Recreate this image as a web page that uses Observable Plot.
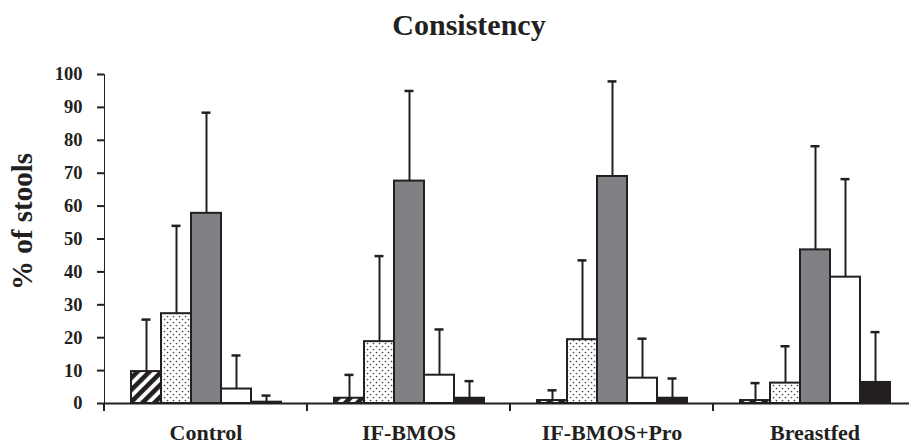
<!DOCTYPE html>
<html>
<head>
<meta charset="utf-8">
<script src="https://cdn.jsdelivr.net/npm/d3@7"></script>
<script src="https://cdn.jsdelivr.net/npm/@observablehq/plot@0.6"></script>
<style>
  html, body { margin: 0; padding: 0; background: white; }
</style>
</head>
<body>
<div id="chart"></div>
<script>
// ---- data ----
const groups = ["Control", "IF-BMOS", "IF-BMOS+Pro", "Breastfed"];
const series = ["Type 1", "Type 2", "Type 3", "Type 4", "Type 5"];
const yTicks = [0, 10, 20, 30, 40, 50, 60, 70, 80, 90, 100];
const controlMean = [9.7, 27.3, 57.8, 4.4, 0.4];
const controlSD   = [15.8, 26.7, 30.6, 10.2, 2.0];
const ifbmosMean  = [1.6, 18.8, 67.6, 8.6, 1.6];
const ifbmosSD    = [7.1, 26.0, 27.4, 13.9, 5.2];
const proMean     = [0.9, 19.4, 69.0, 7.7, 1.6];
const proSD       = [3.1, 24.1, 28.9, 12.0, 6.0];
const bfMean      = [0.9, 6.2, 46.7, 38.4, 6.4];
const bfSD        = [5.3, 11.2, 31.5, 29.8, 15.3];

const means = [controlMean, ifbmosMean, proMean, bfMean];
const sds = [controlSD, ifbmosSD, proSD, bfSD];
const data = groups.flatMap((g, gi) => series.map((s, si) => ({
  group: g, series: s, value: means[gi][si], sd: sds[gi][si]
})));

// ---- styles ----
const ink = "#231f20";
const fills = ["url(#hatch)", "url(#dots)", "#808184", "#ffffff", ink];
const serif = "'Liberation Serif', 'Times New Roman', serif";

const plot = Plot.plot({
  width: 909,
  height: 446,
  marginTop: 74,
  marginBottom: 43,
  marginLeft: 103,
  marginRight: -8,
  style: {fontFamily: serif, fontSize: "18.5px", fontWeight: "bold", color: ink, background: "white", overflow: "visible"},
  fx: {domain: groups, padding: 0, axis: "bottom", tickSize: 0, tickPadding: 21, label: null},
  x: {domain: series, axis: null, paddingInner: 0, paddingOuter: 0.78},
  y: {domain: [0, 100], ticks: yTicks, tickSize: 7, tickPadding: 15, line: true, label: null},
  color: {domain: series, range: fills},
  marks: [
    Plot.barY(data, {fx: "group", x: "series", y: "value", fill: "series", stroke: ink, strokeWidth: 2}),
    Plot.ruleX(data, {fx: "group", x: "series", y1: "value", y2: d => d.value + d.sd, stroke: ink, strokeWidth: 2}),
    Plot.tickY(data, {fx: "group", x: "series", y: d => d.value + d.sd, stroke: ink, strokeWidth: 2.5, insetLeft: 10.5, insetRight: 10.5}),
    Plot.ruleY([0], {stroke: ink, strokeWidth: 2})
  ]
});

document.getElementById("chart").appendChild(plot);
const svg = d3.select(plot);

// patterns
const defs = svg.insert("defs", ":first-child");
const hatch = defs.append("pattern").attr("id", "hatch").attr("patternUnits", "userSpaceOnUse")
  .attr("width", 8.5).attr("height", 8.5).attr("patternTransform", "rotate(45)");
hatch.append("rect").attr("width", 8.5).attr("height", 8.5).attr("fill", "white");
hatch.append("rect").attr("width", 4.6).attr("height", 8.5).attr("fill", ink);
const dots = defs.append("pattern").attr("id", "dots").attr("patternUnits", "userSpaceOnUse")
  .attr("width", 6).attr("height", 6);
dots.append("rect").attr("width", 6).attr("height", 6).attr("fill", "white");
dots.append("circle").attr("cx", 1.5).attr("cy", 1.5).attr("r", 0.85).attr("fill", "#444");
dots.append("circle").attr("cx", 4.5).attr("cy", 4.5).attr("r", 0.85).attr("fill", "#444");

// axis styling
svg.selectAll('[aria-label^="y-axis"] path, [aria-label^="y-axis"] line').attr("stroke-width", 2);
svg.selectAll('[aria-label^="fx-axis"] text').attr("font-size", 22);

// group boundary ticks on the x axis, from the fx scale
const fx = plot.scale("fx");
const yS = plot.scale("y");
const y0 = yS.apply(0);
svg.append("g").attr("aria-label", "group ticks")
  .selectAll("line").data(groups).join("line")
  .attr("x1", g => fx.apply(g)).attr("x2", g => fx.apply(g))
  .attr("y1", y0).attr("y2", y0 + 8)
  .attr("stroke", ink).attr("stroke-width", 2);

// title and y label
svg.append("text").text("Consistency")
  .attr("x", 469).attr("y", 35).attr("text-anchor", "middle")
  .attr("font-family", serif).attr("font-weight", "bold").attr("font-size", 30).attr("fill", ink);
svg.append("text").text("% of stools")
  .attr("transform", `translate(32, ${(yS.apply(0) + yS.apply(100)) / 2 - 17}) rotate(-90)`)
  .attr("text-anchor", "middle")
  .attr("font-family", serif).attr("font-weight", "bold").attr("font-size", 29).attr("fill", ink);
</script>
</body>
</html>
